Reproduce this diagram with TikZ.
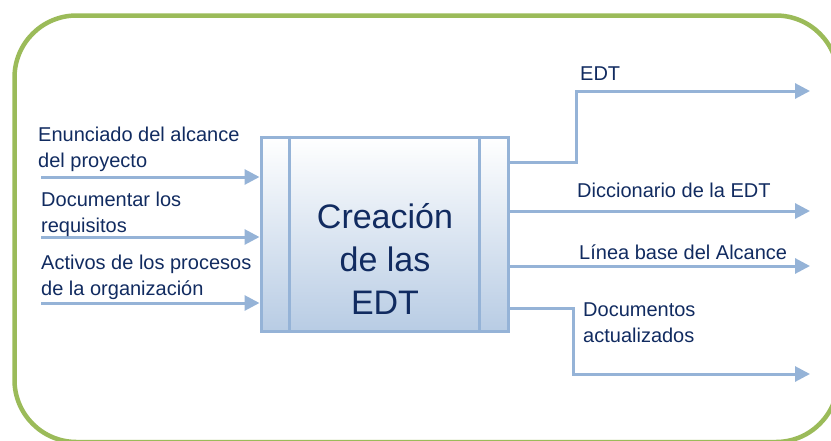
\documentclass[tikz,border=0pt]{standalone}
\usepackage{fontspec}
\setmainfont{Liberation Sans}
\usetikzlibrary{arrows.meta}

\definecolor{linea}{HTML}{95B3D7}
\definecolor{texto}{HTML}{112B60}
\definecolor{verde}{HTML}{9BBB59}
\definecolor{fondo}{HTML}{B8CCE4}

\begin{document}
\begin{tikzpicture}[x=1pt, y=-1pt,
    flecha/.style = {draw=linea, line width=3pt, -{Triangle[length=15pt, width=15pt]}},
    borde/.style = {draw=linea, line width=3pt},
    etiq/.style = {anchor=base west, inner sep=0pt, text=texto, align=left,
                   font=\fontsize{20}{26}\selectfont},
    proc/.style = {borde, minimum width=247pt, minimum height=194pt, inner sep=0pt,
                   top color=white, bottom color=fondo},
    titulo/.style = {inner sep=0pt, text=texto, align=center,
                     font=\fontsize{34}{43}\selectfont}]
    \useasboundingbox (0,0) rectangle (831,440);
    \clip (0,0) rectangle (831,440);

    % marco
    \draw[verde, line width=4.5pt, rounded corners=62pt] (14.5,15.5) rectangle (838,442);

    % proceso
    \node[proc] (proceso) at (384.5,234) {};
    \draw[borde] ([xshift=30pt]proceso.north west) -- ([xshift=30pt]proceso.south west);
    \draw[borde] ([xshift=-30pt]proceso.north east) -- ([xshift=-30pt]proceso.south east);
    \node[titulo] (nombre) at (385,259) {Creación\\de las\\EDT};

    % entradas
    \coordinate (e1) at (41,177);
    \coordinate (e2) at (41,237);
    \coordinate (e3) at (41,303);
    \draw[flecha] (e1) -- (e1 -| proceso.west);
    \draw[flecha] (e2) -- (e2 -| proceso.west);
    \draw[flecha] (e3) -- (e3 -| proceso.west);
    \node[etiq] (t1) at (38,167) {Enunciado del alcance\\del proyecto};
    \node[etiq] (t2) at (41,232) {Documentar los\\requisitos};
    \node[etiq] (t3) at (41,295) {Activos de los procesos\\de la organización};

    % salidas
    \coordinate (s1) at (810,91);
    \coordinate (s2) at (810,211);
    \coordinate (s3) at (810,266);
    \coordinate (s4) at (810,374);
    \coordinate (q1) at (576,162);
    \coordinate (q4) at (573,308);
    \draw[flecha] (q1 -| proceso.east) -- (q1) -- (q1 |- s1) -- (s1);
    \draw[flecha] (s2 -| proceso.east) -- (s2);
    \draw[flecha] (s3 -| proceso.east) -- (s3);
    \draw[flecha] (q4 -| proceso.east) -- (q4) -- (q4 |- s4) -- (s4);
    \node[etiq] (u1) at (580,80) {EDT};
    \node[etiq] (u2) at (577,197) {Diccionario de la EDT};
    \node[etiq] (u3) at (579,259) {Línea base del Alcance};
    \node[etiq] (u4) at (583,342) {Documentos\\actualizados};
\end{tikzpicture}
\end{document}
